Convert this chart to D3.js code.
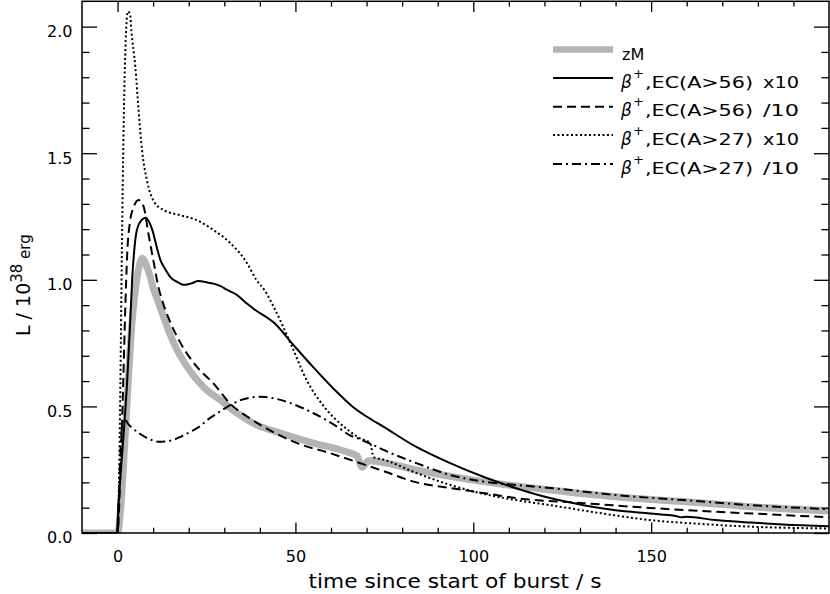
<!DOCTYPE html>
<html>
<head>
<meta charset="utf-8">
<script src="https://cdn.jsdelivr.net/npm/d3@7"></script>
<style>
  body { margin: 0; background: white; }
  text { font-family: "DejaVu Sans", "Liberation Sans", sans-serif; fill: black; }
</style>
</head>
<body>
<div id="root"></div>
<script>
// data: [time (s), L (1e38 erg)]
const zM = [[-10,0],[0,0],[1,0.12],[2,0.35],[3,0.6],[4,0.82],[5,0.96],[6,1.05],[7,1.085],[8,1.06],
  [9,1.02],[10.2,0.96],[11.5,0.91],[13,0.85],[15.8,0.75],[19.6,0.655],[24.2,0.576],[28.9,0.525],
  [33.6,0.473],[39.2,0.426],[45.8,0.395],[55.1,0.355],[64.5,0.32],[67.3,0.305],[68.8,0.26],
  [70.5,0.285],[74,0.28],[84,0.249],[102.8,0.203],[121.6,0.17],[140,0.143],[159,0.124],
  [178,0.104],[200,0.087]];

const ec56x10 = [[-10,0],[-0.2,0],[0.2,0.1],[1.5,0.35],[2.7,0.6],[3.5,0.82],[4.1,1.0],[5,1.16],
  [6,1.22],[7.9,1.245],[9,1.225],[9.7,1.2],[11,1.13],[12,1.08],[13.5,1.04],[14.9,1.01],[17,0.99],
  [18.6,0.98],[20.5,0.985],[22.8,0.995],[25,0.99],[27,0.985],[29,0.975],[30.8,0.96],[33.6,0.94],
  [36,0.91],[38.3,0.885],[44,0.83],[49.6,0.74],[55,0.655],[60.7,0.57],[66,0.5],[70,0.46],
  [74.7,0.42],[84,0.34],[93.5,0.276],[102.8,0.222],[112,0.177],[121.6,0.138],[131,0.11],
  [140,0.09],[149.7,0.077],[157,0.067],[158.5,0.062],[160,0.064],[168,0.051],[178,0.041],
  [187,0.034],[200,0.027]];

const ec56d10 = [[-10,0],[0,0],[0.7,0.2],[1.5,0.55],[2.2,0.9],[2.7,1.1],[3.5,1.23],[4.6,1.29],
  [5.9,1.315],[7.3,1.29],[8.7,1.18],[10.2,1.066],[11.5,0.97],[12.5,0.92],[14.9,0.83],[17.7,0.75],
  [22.4,0.655],[27,0.59],[31.7,0.51],[36.4,0.46],[41,0.42],[50.5,0.355],[59.8,0.315],[69,0.272],
  [74.7,0.245],[84,0.2],[93.5,0.178],[102.8,0.158],[112,0.138],[131,0.118],[149.7,0.099],
  [168,0.084],[187,0.071],[200,0.062]];

const ec27x10 = [[-10,0],[0,0],[0.4,0.2],[0.8,0.6],[1.2,1.1],[1.7,1.6],[2.3,1.95],[2.9,2.06],
  [3.5,2.05],[3.9,1.98],[5,1.84],[5.9,1.67],[6.9,1.51],[8.3,1.39],[10.2,1.31],[13,1.275],
  [17.7,1.255],[22.4,1.235],[27,1.196],[31.7,1.145],[36.4,1.066],[39,1.0],[41.5,0.955],[44,0.89],
  [48.6,0.75],[53.3,0.6],[58,0.5],[64.5,0.41],[68,0.375],[71,0.355],[72,0.3],[74.7,0.29],
  [84,0.237],[93.5,0.19],[102.8,0.155],[112,0.13],[121.6,0.11],[135,0.08],[149.7,0.051],
  [165,0.035],[178,0.025],[200,0.018]];

const ec27d10 = [[-10,0],[0,0],[0.4,0.15],[0.9,0.35],[1.5,0.44],[2,0.45],[3,0.43],[4.6,0.41],
  [6.5,0.39],[8.3,0.375],[10,0.365],[11.6,0.36],[13.5,0.362],[15.8,0.368],[18,0.382],[20.5,0.4],
  [23,0.42],[25.2,0.446],[27.5,0.468],[29.9,0.49],[32,0.508],[34.6,0.525],[37,0.534],[39.2,0.538],
  [41.5,0.537],[43.9,0.532],[48.6,0.513],[55.1,0.473],[61.7,0.42],[65.4,0.385],[67.3,0.375],
  [73,0.34],[74.8,0.328],[84,0.276],[93.5,0.229],[102.9,0.203],[112,0.19],[121.6,0.178],
  [140,0.15],[159,0.13],[178,0.11],[200,0.094]];

const xMajor = [0, 50, 100, 150];
const yMajor = [0.0, 0.5, 1.0, 1.5, 2.0];
const legendLabels = ["zM", ",EC(A>56)", ",EC(A>56)", ",EC(A>27)", ",EC(A>27)"];
const legendFactors = ["", "x10", "/10", "x10", "/10"];

const width = 830, height = 594;
const svg = d3.select("#root").append("svg")
  .attr("width", width).attr("height", height);

const x = d3.scaleLinear().domain([-10, 200]).range([82, 829]);
const y = d3.scaleLinear().domain([0, 2.1]).range([533, 1.3]);

// series styles (gray first so black lines sit on top)
const series = [
  {data: zM, color: "#b4b4b4", w: 7, dash: null},
  {data: ec56x10, color: "black", w: 2, dash: null},
  {data: ec56d10, color: "black", w: 2, dash: "9,5"},
  {data: ec27x10, color: "black", w: 2, dash: "2,2.5"},
  {data: ec27d10, color: "black", w: 2, dash: "9,4,2,4"}
];

const line = d3.line().x(d => x(d[0])).y(d => y(d[1])).curve(d3.curveMonotoneX);

svg.append("defs").append("clipPath").attr("id", "clip")
  .append("rect").attr("x", 82).attr("y", 1.3).attr("width", 747).attr("height", 532);

const plot = svg.append("g").attr("clip-path", "url(#clip)");
series.forEach(s => {
  plot.append("path")
    .attr("d", line(s.data))
    .attr("fill", "none")
    .attr("stroke", s.color)
    .attr("stroke-width", s.w)
    .attr("stroke-linejoin", "round")
    .attr("stroke-dasharray", s.dash);
});

// axes, ticks pointing inward on all four sides
const xMinor = d3.range(-10, 200, 10).filter(v => v > -10 && !xMajor.includes(v));
const yMinor = d3.range(0, 21).map(v => v / 10).filter(v => !yMajor.includes(v));

function styleAxis(g) {
  g.select(".domain").remove();
  g.selectAll("line").attr("stroke", "black").attr("stroke-width", 1.3);
  g.selectAll("text").style("font-size", "16px").attr("fill", "black")
    .style("font-family", "'DejaVu Sans', sans-serif");
}

svg.append("g").attr("transform", "translate(0,533)")
  .call(d3.axisBottom(x).tickValues(xMajor).tickSize(-10.6).tickPadding(18).tickFormat(d3.format("d")))
  .call(styleAxis);
svg.append("g").attr("transform", "translate(0,533)")
  .call(d3.axisBottom(x).tickValues(xMinor).tickSize(-5.3).tickFormat(""))
  .call(styleAxis);
svg.append("g").attr("transform", "translate(0,1.3)")
  .call(d3.axisTop(x).tickValues(xMajor).tickSize(-10.6).tickFormat(""))
  .call(styleAxis);
svg.append("g").attr("transform", "translate(0,1.3)")
  .call(d3.axisTop(x).tickValues(xMinor).tickSize(-5.3).tickFormat(""))
  .call(styleAxis);

svg.append("g").attr("transform", "translate(82,0)")
  .call(d3.axisLeft(y).tickValues(yMajor).tickSize(-15).tickPadding(9.5).tickFormat(d3.format(".1f")))
  .call(styleAxis)
  .selectAll("text").attr("dy", "0.62em");
svg.append("g").attr("transform", "translate(82,0)")
  .call(d3.axisLeft(y).tickValues(yMinor).tickSize(-7.5).tickFormat(""))
  .call(styleAxis);
svg.append("g").attr("transform", "translate(829,0)")
  .call(d3.axisRight(y).tickValues(yMajor).tickSize(-15).tickFormat(""))
  .call(styleAxis);
svg.append("g").attr("transform", "translate(829,0)")
  .call(d3.axisRight(y).tickValues(yMinor).tickSize(-7.5).tickFormat(""))
  .call(styleAxis);

// frame
svg.append("rect")
  .attr("x", 82).attr("y", 1.3).attr("width", 747).attr("height", 531.7)
  .attr("fill", "none").attr("stroke", "black").attr("stroke-width", 1.5);

// axis titles
svg.append("text")
  .attr("x", 455).attr("y", 588)
  .attr("text-anchor", "middle")
  .attr("textLength", 293).attr("lengthAdjust", "spacingAndGlyphs")
  .style("font-size", "19px")
  .text("time since start of burst / s");

const ylab = svg.append("text")
  .attr("transform", "translate(30,336) rotate(-90)")
  .style("font-size", "19px");
ylab.append("tspan").text("L / 10");
ylab.append("tspan").attr("dy", -8).style("font-size", "15px").text("38");
ylab.append("tspan").attr("dy", 8).style("font-size", "15px").text(" erg");

// legend
const legY = [49.5, 78, 106.8, 135, 164];
series.forEach((s, i) => {
  svg.append("line")
    .attr("x1", 553).attr("x2", 613)
    .attr("y1", legY[i]).attr("y2", legY[i])
    .attr("stroke", s.color).attr("stroke-width", i === 0 ? 6.5 : 2)
    .attr("stroke-dasharray", s.dash);
  if (i === 0) {
    svg.append("text").attr("x", 622).attr("y", legY[i] + 10.5)
      .style("font-size", "16px").text(legendLabels[i]);
  } else {
    svg.append("text").attr("x", 621).attr("y", legY[i] + 9.5)
      .style("font-size", "17px").style("font-style", "italic").text("β");
    svg.append("text").attr("x", 633).attr("y", legY[i] - 0.5)
      .style("font-size", "13px").text("+");
    svg.append("text").attr("x", 645).attr("y", legY[i] + 9.5)
      .attr("textLength", 108).attr("lengthAdjust", "spacingAndGlyphs")
      .style("font-size", "16px").text(legendLabels[i]);
    svg.append("text").attr("x", 763).attr("y", legY[i] + 9.5)
      .attr("textLength", 36).attr("lengthAdjust", "spacingAndGlyphs")
      .style("font-size", "16px").text(legendFactors[i]);
  }
});
</script>
</body>
</html>
